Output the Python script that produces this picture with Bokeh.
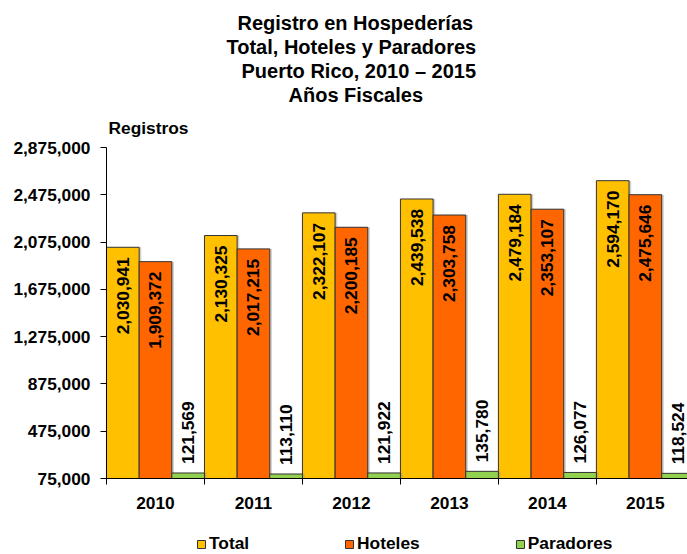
import math
from bokeh.plotting import figure
from bokeh.layouts import column
from bokeh.models import (Range1d, FixedTicker, NumeralTickFormatter, Title, Legend,
                          LegendItem, ColumnDataSource)
from bokeh.core.properties import value
from bokeh.embed import file_html
from bokeh.resources import INLINE

years = ["2010", "2011", "2012", "2013", "2014", "2015"]
total = [2030941, 2130325, 2322107, 2439538, 2479184, 2594170]
hoteles = [1909372, 2017215, 2200185, 2303758, 2353107, 2475646]
paradores = [121569, 113110, 121922, 135780, 126077, 118524]
series_names = ["Total", "Hoteles", "Paradores"]
colors = ["#FFC000", "#FF6600", "#92D050"]
y_ticks = [75000, 475000, 875000, 1275000, 1675000, 2075000, 2475000, 2875000]
title_lines = ["Registro en Hospederías", "Total, Hoteles  y Paradores",
               "Puerto Rico, 2010 – 2015", "Años Fiscales"]
title_offsets = [131, 120, 135, 182]   # left offsets (px) so lines centre near x=355
y_title = "Registros"

FONT = "Liberation Sans"
BASE = y_ticks[0]

p = figure(width=687, height=532, output_backend="svg", toolbar_location=None,
           x_range=Range1d(0, 5.93), y_range=Range1d(y_ticks[0], y_ticks[-1]),
           min_border_left=106, min_border_right=0, min_border_top=147, min_border_bottom=54)
p.outline_line_color = None
p.xgrid.visible = False
p.ygrid.visible = False
p.background_fill_color = None
p.border_fill_color = "white"

# y axis
p.yaxis.ticker = FixedTicker(ticks=y_ticks)
p.yaxis.formatter = NumeralTickFormatter(format="0,0")
p.yaxis.major_label_text_font = FONT
p.yaxis.major_label_text_font_style = "bold"
p.yaxis.major_label_text_font_size = "13pt"
p.yaxis.major_label_text_color = "black"
p.yaxis.major_tick_out = 6
p.yaxis.major_tick_in = 0
p.yaxis.minor_tick_line_color = None
p.yaxis.axis_line_color = "black"
p.yaxis.major_tick_line_color = "black"
p.yaxis.major_label_standoff = 10

# x axis: labels at category centres, tick marks at boundaries
centers = [i + 0.5 for i in range(len(years))]
bounds = [float(i) for i in range(len(years) + 1)]
p.xaxis.ticker = FixedTicker(ticks=centers, minor_ticks=bounds)
p.xaxis.major_label_overrides = {c: y for c, y in zip(centers, years)}
p.xaxis.major_label_text_font = FONT
p.xaxis.major_label_text_font_style = "bold"
p.xaxis.major_label_text_font_size = "13pt"
p.xaxis.major_label_text_color = "black"
p.xaxis.major_tick_out = 0
p.xaxis.major_tick_in = 0
p.xaxis.minor_tick_out = 6
p.xaxis.minor_tick_in = 0
p.xaxis.minor_tick_line_color = "black"
p.xaxis.axis_line_color = "black"
p.xaxis.major_label_standoff = 12

series = [total, hoteles, paradores]
for k, (name, vals, col) in enumerate(zip(series_names, series, colors)):
    xs = [i + (k + 0.5) / 3 for i in range(len(years))]
    src = ColumnDataSource(dict(x=xs, top=vals, lab=[f"{v:,}" for v in vals]))
    # soft shadow on the right of each bar
    sh = ColumnDataSource(dict(x=[v + 0.022 for v in xs], top=vals))
    p.vbar(x="x", top="top", bottom=BASE, width=1 / 3, source=sh,
           fill_color="#8c8c8c", fill_alpha=0.4, line_color=None)
    p.vbar(x="x", top="top", bottom=BASE, width=1 / 3, source=src,
           fill_color=col, line_color="#333333", line_width=1)
    if k < 2:
        p.text(x="x", y="top", text="lab", source=src, angle=math.pi / 2,
               text_align="right", text_baseline="middle", x_offset=0, y_offset=10,
               text_font=value(FONT), text_font_style="bold", text_font_size="13pt",
               text_color="black")
    else:
        p.text(x="x", y="top", text="lab", source=src, angle=math.pi / 2,
               text_align="left", text_baseline="middle", x_offset=0, y_offset=-9,
               text_font=value(FONT), text_font_style="bold", text_font_size="13pt",
               text_color="black")

# titles: first added sits nearest the frame
p.add_layout(Title(text=y_title, align="left", offset=2, standoff=20,
                   text_font=FONT, text_font_style="bold", text_font_size="13pt",
                   text_color="black"), "above")
for line, off in reversed(list(zip(title_lines, title_offsets))):
    p.add_layout(Title(text=line, align="left", offset=off, standoff=0,
                       text_font=FONT, text_font_style="bold", text_font_size="15pt",
                       text_color="black"), "above")

# legend strip (separate figure directly below); its bars sit outside its view
q = figure(width=687, height=22, output_backend="svg", toolbar_location=None,
           x_range=Range1d(0, 1), y_range=Range1d(0, 1),
           min_border_left=0, min_border_right=0, min_border_top=0, min_border_bottom=0)
q.axis.visible = False
q.grid.visible = False
q.outline_line_color = None
q.border_fill_color = "white"
items = []
for name, col in zip(series_names, colors):
    r = q.vbar(x=[5], top=[5], bottom=[4], width=0.1, fill_color=col,
               line_color="#333333", line_width=1)
    items.append(LegendItem(label=name, renderers=[r]))
legend = Legend(items=items, orientation="horizontal", location=(90, 0), spacing=95,
                glyph_width=10, glyph_height=10, label_standoff=3, padding=0, margin=0,
                border_line_color=None, background_fill_alpha=0,
                label_text_font=FONT, label_text_font_style="bold",
                label_text_font_size="13pt", label_text_color="black")
q.add_layout(legend, "center")

layout = column(p, q, spacing=0)
open("out.html", "w").write(file_html(layout, INLINE))
